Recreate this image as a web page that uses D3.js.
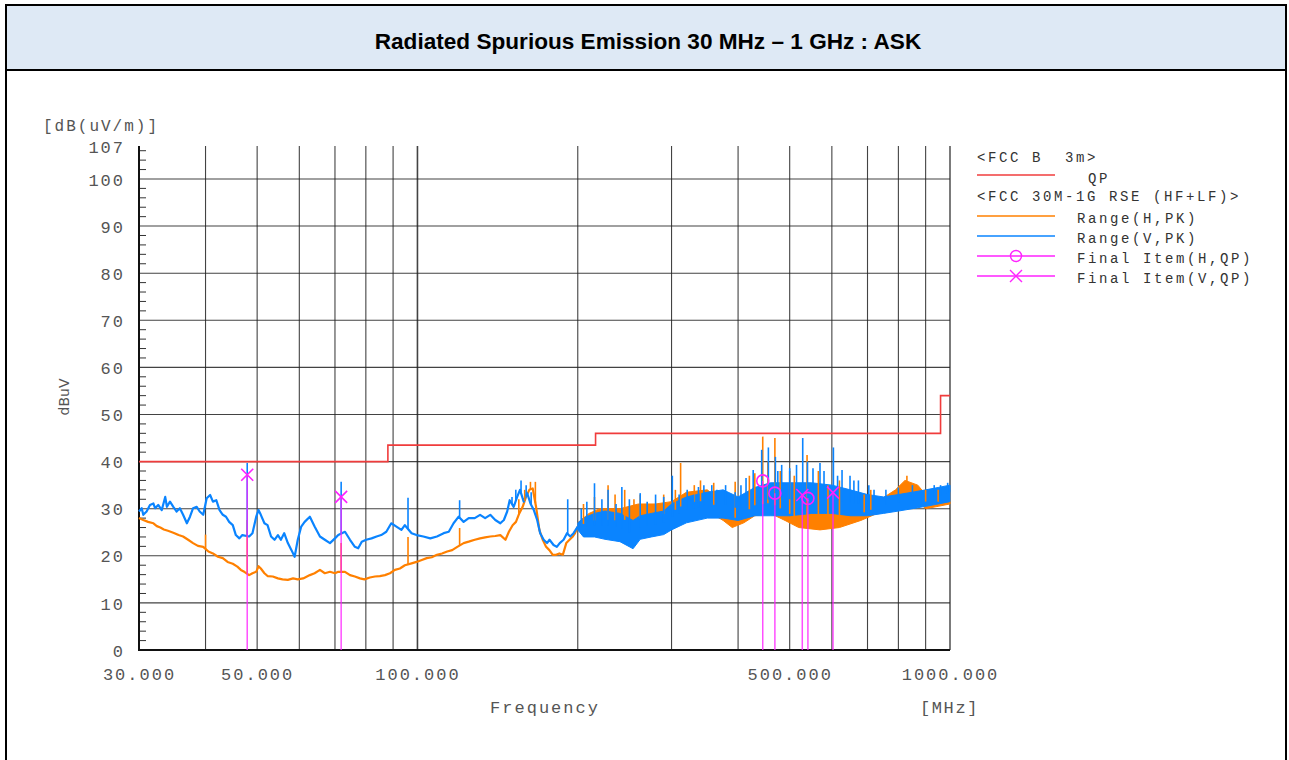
<!DOCTYPE html>
<html>
<head>
<meta charset="utf-8">
<script src="https://cdn.jsdelivr.net/npm/d3@7"></script>
<style>
  body { margin: 0; background: #fff; }
  .mono { font-family: "Liberation Mono", "DejaVu Sans Mono", monospace; }
</style>
</head>
<body>
<script>
// Limit line FCC B 3m (QP), step edges in MHz
var limitFreq = [30, 88, 88, 216, 216, 960, 960, 1000];
var limitLevel = [40, 40, 43.5, 43.5, 46, 46, 54, 54];

// Range(V,PK) - blue, 30-200 MHz read as a single line
var vLineFreq = [30, 30.35, 30.56, 31.0, 31.46, 31.93, 32.16, 32.6, 33.1, 33.6, 33.85, 34.3, 34.8, 35.3, 35.8, 36.3, 36.9, 37.4, 37.9, 38.5, 39.0, 39.6, 40.2, 40.8, 41.3, 41.9, 42.5, 43.1, 43.7, 44.3, 45.0, 45.6, 46.3, 46.9, 48.3, 49.0, 49.8, 50.3, 50.8, 51.6, 52.3, 53.1, 53.9, 54.7, 55.4, 56.2, 57.1, 58.0, 58.8, 59.6, 60.5, 61.4, 62.8, 64.1, 65.6, 67.0, 68.5, 70.0, 71.0, 73.1, 74.7, 76.3, 77.4, 78.6, 80.1, 82.0, 83.8, 85.5, 87.4, 89.3, 91.3, 93.3, 94.7, 97.5, 99.6, 102.6, 105.7, 108.8, 112.0, 114.5, 116.9, 119.5, 122.1, 124.8, 128.1, 131.1, 134.0, 137.0, 140.0, 143.1, 145.3, 147.4, 149.0, 151.6, 153.9, 155.8, 158.3, 160.7, 163, 165.4, 167.8, 170, 172.6, 175.1, 177, 180.1, 182.7, 185, 188.1, 190.9, 193.6, 196.4, 200];
var vLineLevel = [29.4, 30.1, 28.7, 29.4, 30.8, 31.1, 30.1, 30.8, 29.7, 32.5, 30.4, 31.5, 30.4, 29.4, 30.1, 28.7, 26.9, 28.3, 30.1, 30.4, 29.4, 28.7, 32.2, 32.9, 31.5, 31.8, 29.7, 28.7, 28.3, 27.2, 26.5, 24.4, 23.7, 24.4, 24.1, 24.8, 28.3, 29.7, 28.7, 26.9, 26.5, 24.1, 23.4, 24.4, 23.4, 24.8, 22.7, 21.2, 19.8, 23.4, 26.2, 27.2, 28.3, 26.2, 24.1, 23.4, 22.7, 23.7, 24.4, 25.1, 23.4, 21.9, 21.6, 23.0, 23.4, 23.7, 24.1, 24.4, 25.1, 26.9, 26.2, 25.5, 26.5, 24.8, 24.4, 24.1, 23.7, 24.1, 24.8, 25.1, 26.9, 28.3, 27.2, 28.0, 28.0, 28.7, 28.0, 28.7, 27.6, 26.9, 27.6, 29.4, 31.8, 30.4, 32.5, 34.0, 31.5, 33.3, 31.1, 29.7, 27.6, 24.8, 23.4, 22.7, 23.4, 22.3, 21.9, 22.7, 23.4, 24.8, 24.1, 24.8, 26.2];
// Range(V,PK) - blue, 200-1000 MHz read as lower / upper envelope
var vBandFreq = [200, 205, 215, 225, 240, 254, 262, 275, 290, 300, 320, 350, 375, 400, 430, 460, 500, 550, 600, 650, 700, 750, 800, 850, 900, 950, 1000];
var vBandLow = [25.5, 24.0, 24.0, 23.5, 23.0, 21.5, 23.5, 24.0, 24.5, 25.5, 27.0, 28.0, 28.0, 27.5, 28.5, 28.5, 28.5, 29.0, 29.0, 28.5, 28.5, 29.0, 29.5, 30.0, 30.5, 31.0, 31.5];
var vBandHigh = [27.0, 28.0, 29.0, 29.5, 29.0, 27.5, 28.5, 29.0, 29.5, 31.0, 32.5, 33.5, 34.0, 32.5, 34.5, 35.5, 35.5, 35.5, 35.0, 34.0, 33.0, 32.5, 33.0, 33.5, 34.0, 34.5, 35.0];
var vSpikeFreq = [47.9, 71.9, 96, 120, 150.5, 153, 156.5, 160, 163.5, 191.5, 203, 208, 215, 222, 228, 236, 242, 250, 262, 270, 280, 290, 301, 310, 321, 330, 337, 345, 357, 365, 379, 395, 405, 414, 427, 443, 456, 470, 475, 483, 500, 515, 529, 540, 553, 570, 580, 604, 615, 627, 649, 660, 673, 704, 720, 758, 800, 850, 934, 960, 990];
var vSpikePeak = [39.7, 35.7, 32.3, 31.8, 32.5, 34.0, 36.0, 35.0, 33.5, 32.0, 30.0, 31.5, 35.4, 32.0, 34.0, 31.0, 34.6, 32.0, 33.3, 31.5, 33.0, 32.5, 37.0, 33.0, 34.0, 33.0, 34.6, 35.0, 35.0, 34.0, 35.0, 33.5, 35.0, 36.5, 38.2, 42.5, 43.0, 41.0, 38.0, 39.3, 38.6, 39.3, 45.0, 40.0, 38.6, 39.7, 38.0, 43.0, 37.0, 38.2, 37.0, 36.0, 36.0, 35.0, 34.0, 34.0, 34.5, 35.0, 35.0, 35.0, 35.5];

// Range(H,PK) - orange, 30-200 MHz line
var hLineFreq = [30, 30.56, 31.2, 31.93, 32.4, 32.9, 33.4, 34.0, 34.8, 35.6, 36.3, 37.1, 37.9, 38.7, 39.6, 40.5, 41.3, 42.2, 43.1, 44.0, 45.0, 45.9, 46.6, 47.3, 48.3, 49.0, 49.8, 50.3, 50.8, 51.6, 52.3, 53.5, 54.7, 55.8, 57.1, 58.4, 59.6, 61.0, 62.8, 64.1, 65.6, 67.0, 68.5, 70.0, 71.0, 73.1, 74.7, 76.3, 78.0, 79.5, 81.4, 83.2, 85.0, 86.9, 88.8, 90.7, 92.7, 94.7, 97.5, 99.6, 101.9, 104.1, 106.4, 108.8, 111.2, 113.7, 116.2, 118.8, 122.1, 124.8, 128.1, 131.1, 134.0, 137.0, 140.0, 143.1, 146.3, 148.5, 150.9, 153.1, 155.3, 157.6, 159.9, 162.2, 164.6, 167.0, 169.4, 171.9, 174.4, 176.9, 179.5, 182.1, 184.7, 187.5, 190.3, 193.0, 195.8, 197.7, 200];
var hLineLevel = [28.0, 27.6, 27.2, 26.9, 26.3, 26.0, 25.6, 25.3, 24.9, 24.4, 24.1, 23.4, 22.7, 22.1, 21.9, 20.9, 20.5, 19.8, 19.5, 18.7, 18.3, 17.7, 17.0, 16.6, 15.9, 16.3, 16.6, 17.8, 17.3, 16.3, 15.7, 15.6, 15.2, 15.0, 14.9, 15.2, 15.0, 15.2, 15.9, 16.3, 17.0, 16.3, 16.6, 16.3, 16.6, 16.6, 15.9, 15.6, 15.2, 15.0, 15.4, 15.6, 15.7, 15.9, 16.3, 17.0, 17.3, 18.0, 18.4, 18.7, 19.1, 19.5, 19.7, 20.2, 20.5, 20.9, 21.2, 21.9, 22.7, 23.0, 23.4, 23.7, 23.9, 24.1, 24.2, 24.4, 23.4, 25.1, 26.5, 27.2, 29.0, 30.4, 32.5, 34.0, 34.3, 30.4, 25.5, 23.4, 21.9, 21.2, 20.2, 20.2, 20.5, 20.2, 22.7, 23.4, 24.1, 24.8, 26.2];
// Range(H,PK) - orange, 200-1000 MHz envelope
var hBandFreq = [200, 210, 220, 240, 260, 280, 300, 320, 350, 375, 390, 410, 430, 460, 490, 520, 570, 620, 680, 730, 790, 823, 870, 900, 950, 1000];
var hBandLow = [25.5, 25.5, 25.5, 25.0, 25.0, 26.0, 27.0, 29.0, 29.5, 27.5, 26.0, 27.0, 28.5, 29.0, 27.5, 26.0, 25.5, 26.0, 27.5, 29.0, 30.5, 32.5, 31.5, 30.0, 30.5, 31.0];
var hBandHigh = [27.0, 29.0, 30.0, 30.0, 31.0, 31.0, 31.5, 33.5, 34.0, 31.5, 29.5, 31.0, 33.0, 33.5, 31.5, 29.5, 29.0, 29.0, 30.5, 31.5, 34.0, 36.0, 35.0, 33.0, 32.5, 33.5];
var hSpikeFreq = [40, 47.9, 71.9, 96, 120, 155, 159, 163, 166.5, 205, 215, 228, 235, 245, 255, 262, 290, 305, 312, 331, 340, 360, 395, 420, 430, 445, 455, 469, 480, 500, 510, 539, 566, 590, 620, 690, 710, 830, 900, 950];
var hSpikePeak = [24.5, 27.6, 22.7, 24.0, 25.9, 32.0, 34.0, 35.7, 35.7, 31.0, 32.5, 35.0, 33.0, 34.0, 32.0, 33.0, 33.0, 34.0, 39.7, 35.0, 36.0, 35.5, 35.7, 37.0, 37.5, 45.3, 40.0, 45.0, 38.0, 38.0, 37.0, 41.4, 38.0, 35.0, 36.0, 33.0, 34.0, 37.0, 34.0, 34.0];

// Final items (QP)
var finalHFreq = [445, 469, 541];
var finalHLevel = [35.9, 33.3, 32.2];
var finalVFreq = [47.9, 71.9, 528, 603];
var finalVLevel = [37.2, 32.5, 32.9, 33.4];

// axes
var yTicks = [0, 10, 20, 30, 40, 50, 60, 70, 80, 90, 100, 107];
var xLabelTicks = [30, 50, 100, 500, 1000];
var xGridTicks = [40, 50, 60, 70, 80, 90, 100, 200, 300, 400, 500, 600, 700, 800, 900];

var W = 1289, H = 760;
var svg = d3.select("body").append("svg").attr("width", W).attr("height", H);

// title band and frame
svg.append("rect").attr("x", 6).attr("y", 5).attr("width", 1280).attr("height", 65)
  .attr("fill", "#dee9f5").attr("stroke", "#000").attr("stroke-width", 2);
svg.append("line").attr("x1", 6).attr("x2", 6).attr("y1", 70).attr("y2", H).attr("stroke", "#000").attr("stroke-width", 2);
svg.append("line").attr("x1", 1286).attr("x2", 1286).attr("y1", 70).attr("y2", H).attr("stroke", "#000").attr("stroke-width", 2);
svg.append("text").attr("x", 648).attr("y", 49).attr("text-anchor", "middle")
  .style("font-family", "'Liberation Sans', Arial, sans-serif").style("font-weight", "bold").style("font-size", "22.6px")
  .text("Radiated Spurious Emission 30 MHz \u2013 1 GHz : ASK");

var x = d3.scaleLog().domain([30, 1000]).range([139, 950]);
var y = d3.scaleLinear().domain([0, 107]).range([650, 146]);

var g = svg.append("g");

// grid
g.selectAll(".vgrid").data(xGridTicks).enter().append("line")
  .attr("x1", function (d) { return x(d); }).attr("x2", function (d) { return x(d); })
  .attr("y1", y(0)).attr("y2", y(107))
  .attr("stroke", "#222").attr("stroke-opacity", 0.85)
  .attr("stroke-width", function (d) { return d === 100 ? 1.6 : 1.1; });
g.selectAll(".hgrid").data(d3.range(10, 101, 10)).enter().append("line")
  .attr("x1", x(30)).attr("x2", x(1000))
  .attr("y1", function (d) { return y(d); }).attr("y2", function (d) { return y(d); })
  .attr("stroke", "#222").attr("stroke-opacity", 0.85).attr("stroke-width", 1.1);
// minor ticks on y axis
g.selectAll(".minor").data(d3.range(2, 107, 2).filter(function (d) { return d % 10 !== 0; })).enter().append("line")
  .attr("x1", x(30)).attr("x2", x(30) + 7)
  .attr("y1", function (d) { return y(d); }).attr("y2", function (d) { return y(d); })
  .attr("stroke", "#333").attr("stroke-width", 1);
// frame lines
g.append("line").attr("x1", x(30)).attr("x2", x(30)).attr("y1", y(107)).attr("y2", y(0) + 1).attr("stroke", "#111").attr("stroke-width", 2);
g.append("line").attr("x1", x(30)).attr("x2", x(1000)).attr("y1", y(0)).attr("y2", y(0)).attr("stroke", "#111").attr("stroke-width", 2);
g.append("line").attr("x1", x(1000)).attr("x2", x(1000)).attr("y1", y(107)).attr("y2", y(0)).attr("stroke", "#222").attr("stroke-width", 1.2);

// axis labels
var yAxis = g.append("g").attr("transform", "translate(" + x(30) + ",0)")
  .call(d3.axisLeft(y).tickValues(yTicks).tickSize(0).tickPadding(14));
yAxis.select(".domain").remove();
yAxis.selectAll("text").attr("class", "mono").style("font-size", "17px").style("fill", "#555")
  .attr("letter-spacing", "2px").attr("dy", "0.36em");

var xAxis = g.append("g").attr("transform", "translate(0," + y(0) + ")")
  .call(d3.axisBottom(x).tickValues(xLabelTicks).tickFormat(d3.format(".3f")).tickSize(0));
xAxis.select(".domain").remove();
xAxis.selectAll("text").attr("class", "mono").style("font-size", "17px").style("fill", "#555")
  .attr("letter-spacing", "2px").attr("y", 30).attr("dy", 0);

svg.append("text").attr("class", "mono").attr("x", 43).attr("y", 131)
  .style("font-size", "16px").style("fill", "#555").attr("letter-spacing", "2px").text("[dB(uV/m)]");
svg.append("text").attr("class", "mono").attr("x", 545).attr("y", 713).attr("text-anchor", "middle")
  .style("font-size", "17px").style("fill", "#555").attr("letter-spacing", "2px").text("Frequency");
svg.append("text").attr("class", "mono").attr("x", 920).attr("y", 713)
  .style("font-size", "17px").style("fill", "#555").attr("letter-spacing", "1.6px").text("[MHz]");
svg.append("text").attr("transform", "translate(69,397) rotate(-90)").attr("text-anchor", "middle")
  .style("font-family", "'DejaVu Sans', sans-serif").style("font-size", "14px").style("fill", "#555").text("dBuV");

// traces
var orange = "#ff8000", blue = "#0a84ff", magenta = "#ff22ff";

function band(freqs, lo, hi) {
  return d3.area()
    .x(function (i) { return x(freqs[i]); })
    .y0(function (i) { return y(lo[i]); })
    .y1(function (i) { return y(hi[i]); })(d3.range(freqs.length));
}
function trace(freqs, levels) {
  return d3.line()
    .x(function (i) { return x(freqs[i]); })
    .y(function (i) { return y(levels[i]); })(d3.range(freqs.length));
}
// level under a spike: line below 200 MHz, band middle above
function baseLevel(lf, ll, bf, blo, bhi, f) {
  if (f < 200) return d3.scaleLog().domain(lf).range(ll)(f);
  return d3.scaleLog().domain(bf).range(bf.map(function (d, i) { return (blo[i] + bhi[i]) / 2; }))(f);
}

g.append("path").attr("d", trace(hLineFreq, hLineLevel)).attr("fill", "none").attr("stroke", orange).attr("stroke-width", 2.2).attr("stroke-linejoin", "round");
g.append("path").attr("d", band(hBandFreq, hBandLow, hBandHigh)).attr("fill", orange).attr("stroke", orange).attr("stroke-width", 1);
g.append("path").attr("d", trace(vLineFreq, vLineLevel)).attr("fill", "none").attr("stroke", blue).attr("stroke-width", 2.2).attr("stroke-linejoin", "round");
g.append("path").attr("d", band(vBandFreq, vBandLow, vBandHigh)).attr("fill", blue).attr("stroke", blue).attr("stroke-width", 1);

g.selectAll(".hspike").data(d3.range(hSpikeFreq.length)).enter().append("line")
  .attr("x1", function (i) { return x(hSpikeFreq[i]); }).attr("x2", function (i) { return x(hSpikeFreq[i]); })
  .attr("y1", function (i) { return y(baseLevel(hLineFreq, hLineLevel, hBandFreq, hBandLow, hBandHigh, hSpikeFreq[i])); })
  .attr("y2", function (i) { return y(hSpikePeak[i]); })
  .attr("stroke", orange).attr("stroke-width", 1.6);
g.selectAll(".vspike").data(d3.range(vSpikeFreq.length)).enter().append("line")
  .attr("x1", function (i) { return x(vSpikeFreq[i]); }).attr("x2", function (i) { return x(vSpikeFreq[i]); })
  .attr("y1", function (i) { return y(baseLevel(vLineFreq, vLineLevel, vBandFreq, vBandLow, vBandHigh, vSpikeFreq[i])); })
  .attr("y2", function (i) { return y(vSpikePeak[i]); })
  .attr("stroke", blue).attr("stroke-width", 1.6);

// limit line
g.append("path").attr("d", trace(limitFreq, limitLevel))
  .attr("fill", "none").attr("stroke", "#f03c3c").attr("stroke-width", 1.6);

// final items
function drawLines(freqs, levels) {
  g.selectAll(null).data(d3.range(freqs.length)).enter().append("line")
    .attr("x1", function (i) { return x(freqs[i]); }).attr("x2", function (i) { return x(freqs[i]); })
    .attr("y1", function (i) { return y(levels[i]); }).attr("y2", y(0))
    .attr("stroke", magenta).attr("stroke-opacity", 0.8).attr("stroke-width", 1.5);
}
drawLines(finalHFreq, finalHLevel);
drawLines(finalVFreq, finalVLevel);
g.selectAll(".circ").data(d3.range(finalHFreq.length)).enter().append("circle")
  .attr("cx", function (i) { return x(finalHFreq[i]); }).attr("cy", function (i) { return y(finalHLevel[i]); })
  .attr("r", 6).attr("fill", "none").attr("stroke", magenta).attr("stroke-width", 1.6);
var cr = 6;
d3.range(finalVFreq.length).forEach(function (i) {
  var cx = x(finalVFreq[i]), cy = y(finalVLevel[i]);
  g.append("path").attr("d", "M" + (cx - cr) + "," + (cy - cr) + "L" + (cx + cr) + "," + (cy + cr) + "M" + (cx - cr) + "," + (cy + cr) + "L" + (cx + cr) + "," + (cy - cr))
    .attr("stroke", magenta).attr("stroke-width", 1.6);
});

// legend
var leg = svg.append("g").attr("class", "mono").style("font-size", "14px").style("fill", "#333");
function legText(tx, ty, s) {
  leg.append("text").attr("x", tx).attr("y", ty).attr("letter-spacing", "2.6px").attr("xml:space", "preserve").text(s);
}
function legLine(ly, col) {
  leg.append("line").attr("x1", 977).attr("x2", 1055).attr("y1", ly).attr("y2", ly).attr("stroke", col).attr("stroke-width", 1.3);
}
legText(977, 162, "<FCC B  3m>");
legLine(175, "#f03c3c");
legText(1077, 183, " QP");
legText(977, 201, "<FCC 30M-1G RSE (HF+LF)>");
legLine(216, orange);
legText(1077, 223, "Range(H,PK)");
legLine(236, blue);
legText(1077, 243, "Range(V,PK)");
legLine(256, magenta);
leg.append("circle").attr("cx", 1016).attr("cy", 256).attr("r", 5.5).attr("fill", "none").attr("stroke", magenta).attr("stroke-width", 1.4);
legText(1077, 263, "Final Item(H,QP)");
legLine(276, magenta);
leg.append("path").attr("d", "M1010,270L1022,282M1010,282L1022,270").attr("stroke", magenta).attr("stroke-width", 1.4);
legText(1077, 283, "Final Item(V,QP)");
</script>
</body>
</html>
